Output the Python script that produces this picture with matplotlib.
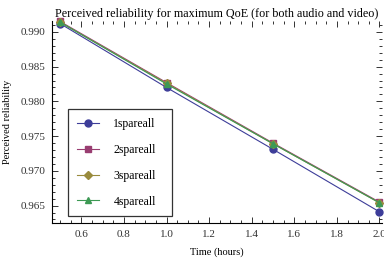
import numpy as np
import matplotlib
matplotlib.use("Agg")
import matplotlib.pyplot as plt
from matplotlib.ticker import MultipleLocator

plt.rcParams['font.family'] = ['Liberation Serif', 'DejaVu Serif']

hours = [0.5, 1.0, 1.5, 2.0]
spare1 = [0.9912, 0.9820, 0.9731, 0.9641]
spare2 = [0.9915, 0.9827, 0.9740, 0.9655]
spare3 = [0.9914, 0.9826, 0.9739, 0.9654]
spare4 = [0.9914, 0.9825, 0.9739, 0.9654]
names = ["1spareall", "2spareall", "3spareall", "4spareall"]

colors = ['#3d3d99', '#993d71', '#998b3d', '#3d9954']
markers = ['o', 's', 'D', '^']
msizes = [5, 4.5, 4.2, 5]

fig = plt.figure(figsize=(3.84, 2.63), dpi=100, facecolor='w')
ax = fig.add_axes([52/384, 40/263, 330/384, 202/263])

for ys, c, m, ms, name in zip([spare1, spare2, spare3, spare4],
                              colors, markers, msizes, names):
    ax.plot(hours, ys, color=c, lw=0.8, marker=m, ms=ms,
            mfc=c, mec=c, label=name, clip_on=False, zorder=5)

ax.set_xlim(0.462, 2.012)
ax.set_ylim(0.96249, 0.99157)
ax.xaxis.set_major_locator(MultipleLocator(0.2))
ax.xaxis.set_minor_locator(MultipleLocator(0.05))
ax.yaxis.set_major_locator(MultipleLocator(0.005))
ax.yaxis.set_minor_locator(MultipleLocator(0.001))
ax.yaxis.set_major_formatter(plt.FormatStrFormatter('%.3f'))
ax.xaxis.set_major_formatter(plt.FormatStrFormatter('%.1f'))

ax.spines['top'].set_visible(False)
ax.spines['right'].set_visible(False)
ax.tick_params(which='both', direction='in', top=True, right=True,
               labelsize=8, colors='#333333', width=0.7)
ax.tick_params(which='major', length=4, pad=5)
ax.tick_params(which='minor', length=2)

ax.set_title("Perceived reliability for maximum QoE (for both audio and video)",
             fontsize=8.7, pad=3)
ax.set_xlabel("Time (hours)", fontsize=7.5, labelpad=6)
ax.set_ylabel("Perceived reliability", fontsize=7.5, labelpad=6)

leg = ax.legend(loc='upper left', bbox_to_anchor=(16/330, 112/202, 104/330, 0.01),
                mode='expand', fontsize=8.5, frameon=True, fancybox=False,
                edgecolor='k', borderpad=0.75, labelspacing=1.18,
                handlelength=1.9, handletextpad=1.2, borderaxespad=0)
leg.get_frame().set_linewidth(0.9)

fig.savefig("out.png", dpi=100)
